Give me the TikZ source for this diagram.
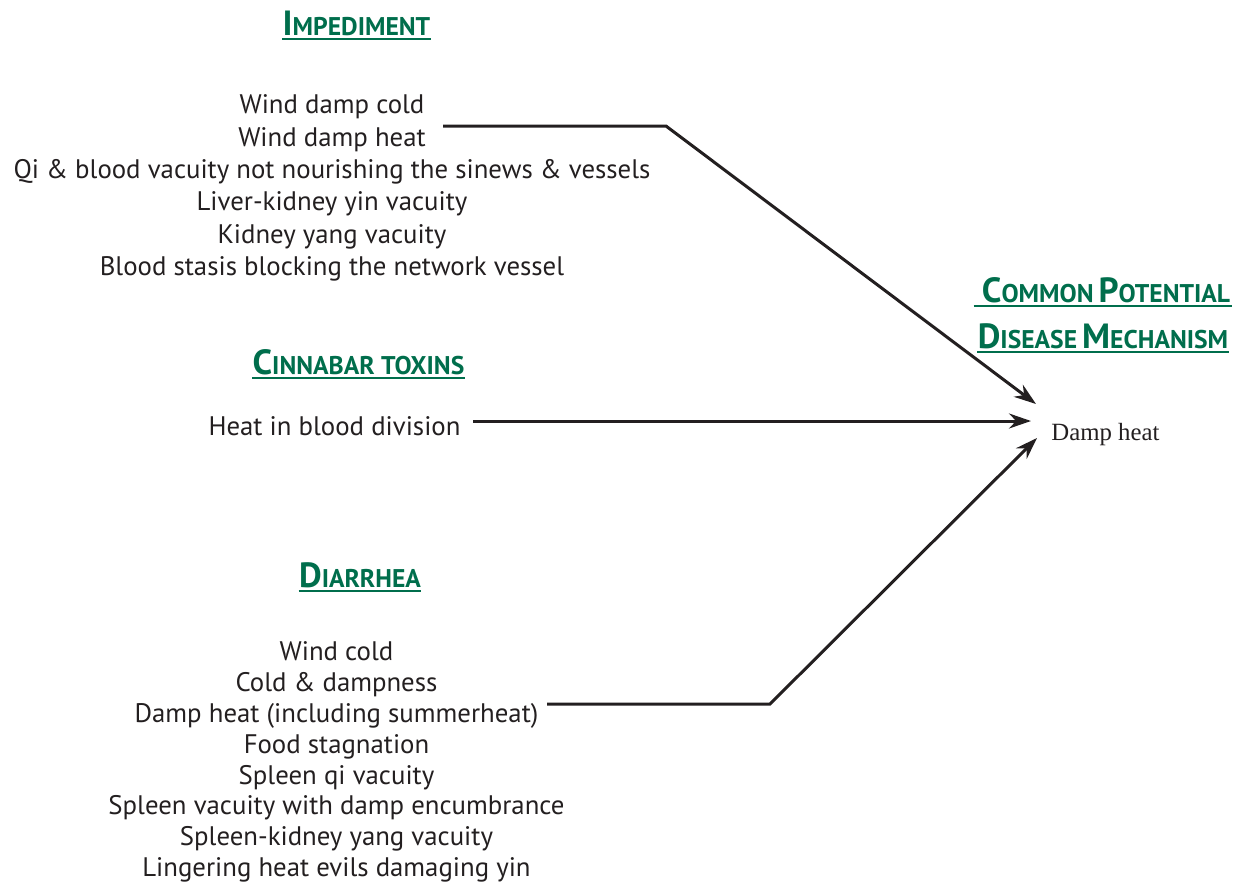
\documentclass[tikz,border=0pt]{standalone}
\usepackage{fontspec}
\setmainfont{PT Sans}
\newfontfamily\dampfont{Liberation Serif}
\usepackage{tikz}
\usetikzlibrary{arrows.meta}

\definecolor{ink}{RGB}{35,31,32}
\definecolor{leaf}{RGB}{0,110,76}

% fake small caps for the green headings
\newcommand{\capbig}[1]{{\fontsize{17.5}{17.5}\selectfont #1}}
\newcommand{\capsmall}[1]{{\fontsize{12.8}{12.8}\selectfont #1}}

\tikzset{
  causes/.style={align=center, text=ink, inner sep=0pt},
  heading/.style={text=leaf, font=\bfseries, inner sep=0pt, anchor=base},
  headrule/.style={draw=leaf, line width=1.1pt},
  link/.style={draw=ink, line width=1.5pt, -{Stealth[length=11pt,width=7.5pt]}}
}

\begin{document}
\begin{tikzpicture}[x=0.5pt, y=-0.5pt]
        \useasboundingbox (0,0) rectangle (1243,884);

        % Impediment group
        \node[heading] (imp) at (356.5,35) {\capbig{I}\capsmall{MPEDIMENT}};
        \draw[headrule] ([yshift=-2pt]imp.base west) -- ([yshift=-2pt]imp.base east);
        \node[causes, font=\fontsize{13.4}{16.2}\selectfont] (implist) at (332,188) {%
            Wind damp cold\\
            Wind damp heat\\
            Qi \& blood vacuity not nourishing the sinews \& vessels\\
            Liver-kidney yin vacuity\\
            Kidney yang vacuity\\
            Blood stasis blocking the network vessel};

        % Cinnabar toxins group
        \node[heading] (cin) at (358.5,374) {\capbig{C}\capsmall{INNABAR TOXINS}};
        \draw[headrule] ([yshift=-2pt]cin.base west) -- ([yshift=-2pt]cin.base east);
        \node[causes, font=\fontsize{13.4}{16.2}\selectfont] (cinlist) at (334.5,426) {Heat in blood division};

        % Diarrhea group
        \node[heading] (dia) at (360,587) {\capbig{D}\capsmall{IARRHEA}};
        \draw[headrule] ([yshift=-2pt]dia.base west) -- ([yshift=-2pt]dia.base east);
        \node[causes, font=\fontsize{13.4}{15.4}\selectfont] (dialist) at (336.5,762) {%
            Wind cold\\
            Cold \& dampness\\
            Damp heat (including summerheat)\\
            Food stagnation\\
            Spleen qi vacuity\\
            Spleen vacuity with damp encumbrance\\
            Spleen-kidney yang vacuity\\
            Lingering heat evils damaging yin};

        % Common mechanism
        \node[heading] (com) at (1106,302) {\capbig{C}\capsmall{OMMON} \capbig{P}\capsmall{OTENTIAL}};
        \draw[headrule] ([xshift=-4pt,yshift=-2pt]com.base west) -- ([xshift=1pt,yshift=-2pt]com.base east);
        \node[heading] (mech) at (1103,348) {\capbig{D}\capsmall{ISEASE} \capbig{M}\capsmall{ECHANISM}};
        \draw[headrule] ([yshift=-2pt]mech.base west) -- ([yshift=-2pt]mech.base east);
        \node[text=ink, inner sep=0pt, anchor=base west, font=\dampfont\fontsize{12.4}{12.4}\selectfont] (damp) at (1051,440) {Damp heat};

        % Connectors
        \coordinate (impfrom) at (443,126);
        \coordinate (impbend) at (666,126);
        \coordinate (tiptop) at (1036,404);
        \coordinate (cinfrom) at (473,421);
        \coordinate (tipmid) at (1031,421);
        \coordinate (diafrom) at (547,704);
        \coordinate (diabend) at (770,704);
        \coordinate (tiplow) at (1037,438);

        \draw[link] (impfrom) -- (impbend) -- (tiptop);
        \draw[link] (cinfrom) -- (tipmid);
        \draw[link] (diafrom) -- (diabend) -- (tiplow);
    \end{tikzpicture}
\end{document}
